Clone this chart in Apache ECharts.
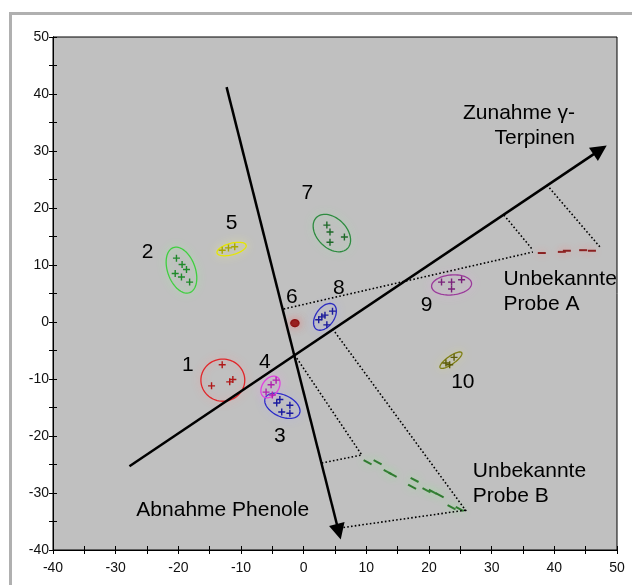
<!DOCTYPE html>
<html>
<head>
<meta charset="utf-8">
<script src="https://cdn.jsdelivr.net/npm/echarts@6/dist/echarts.min.js"></script>
<style>
  html, body { margin: 0; padding: 0; background: #fff; }
  #chart { width: 632px; height: 585px; }
</style>
</head>
<body>
<div id="chart"></div>
<script>
// ---- data -------------------------------------------------------------
const clusterNames = ['1', '2', '3', '4', '5', '6', '7', '8', '9', '10'];

// individual samples of each reference group (score 1, score 2)
const clusterPoints = [
  [[-13, -7.5], [-14.7, -11.2], [-11.8, -10.5], [-11.3, -10.1]],
  [[-20.3, 11.2], [-19.4, 10.1], [-18.7, 9.2], [-19.5, 7.9], [-18.2, 7], [-20.5, 8.5]],
  [[-4.3, -14.2], [-3.8, -13.6], [-2.2, -14.6], [-2.2, -16], [-3.5, -15.8]],
  [[-4.4, -10.2], [-5.2, -11], [-6, -12.3], [-5, -12.8]],
  [[-13, 12.6], [-12, 13], [-11, 13.2]],
  [],
  [[3.7, 17], [4.2, 15.8], [4.2, 14], [6.5, 14.9]],
  [[2.9, 0.9], [3.4, 1.2], [4.6, 1.9], [3.7, -0.5], [2.4, 0.4]],
  [[22, 7], [23.6, 7], [25.2, 7.4], [23.6, 5.8]],
  [[22.7, -7.2], [24, -6.2], [23.3, -7.5]]
];

// group confidence ellipses: centre x, centre y, semi-axis x, semi-axis y, tilt (deg), group index
const groupEllipses = [
  [-12.9, -10.2, 3.5, 3.7, 0, 0],
  [-19.5, 9.1, 2.2, 4.2, 20, 1],
  [-3.4, -14.7, 3.0, 1.9, -25, 2],
  [-5.3, -11.4, 1.3, 2.1, -35, 3],
  [-11.5, 12.8, 2.4, 1.0, 15, 4],
  [-1.4, -0.2, 0.65, 0.6, 0, 5],
  [4.5, 15.6, 3.5, 2.6, -45, 6],
  [3.4, 0.9, 2.4, 1.6, 55, 7],
  [23.6, 6.5, 3.2, 1.75, 5, 8],
  [23.5, -6.7, 2.1, 0.7, 35, 9]
];

// positions of the group numbers
const clusterLabelPos = [
  [-18.5, -7.5], [-24.9, 12.3], [-3.8, -20], [-6.2, -7], [-11.5, 17.4],
  [-1.9, 4.4], [0.6, 22.6], [5.6, 6], [19.6, 3], [25.4, -10.5]
];

// unknown samples
const probeA = [[38, 12.1], [41.2, 12.3], [42, 12.5], [44.6, 12.6], [46, 12.5]];
const probeB = [[10.2, -24.6], [11.8, -24.6], [13.4, -26.3], [14.2, -26.8], [17.7, -27.7],
                [17.3, -28.9], [19.6, -29.5], [20.6, -29.8], [21.7, -30.4], [23.6, -32.5], [24.9, -32.8]];

// trend axes
const arrowPhenole = [[-12.3, 41.2], [5.6, -36.8]];
const arrowTerpinen = [[-27.8, -25.3], [47.3, 30.2]];

// projections of the unknown samples onto the trend axes
const projections = [
  [[-1.44, -5.79], [9.27, -23.33]],
  [[4.63, -1.23], [26.04, -33.33]],
  [[2.88, -24.74], [9.27, -23.33]],
  [[5.75, -36.14], [26.04, -32.98]],
  [[-3.19, 2.28], [36.58, 12.28]],
  [[31.95, 18.77], [36.58, 12.63]],
  [[38.82, 24.04], [47.28, 13.16]]
];

// annotation texts and anchors
const annotations = [
  { text: 'Zunahme \u03b3-\nTerpinen', at: [43.3, 34.5], align: 'right' },
  { text: 'Unbekannte\nProbe A', at: [31.9, 5.4], align: 'left' },
  { text: 'Unbekannte\nProbe B', at: [27.0, -28.3], align: 'left' },
  { text: 'Abnahme Phenole', at: [-26.7, -33.0], align: 'left' }
];

const axisMin = -40, axisMax = 50, tickStep = 5;

// ---- styling ----------------------------------------------------------
const groupColors = ['#e0262a', '#3fcf3f', '#2b2bc8', '#e040e0', '#e6e600',
                     '#8b1010', '#2e8b40', '#2b2bc0', '#9a3a9a', '#7d7d10'];
const pointColors = ['#b01818', '#1f8a2a', '#1a1aa0', '#b020b0', '#a8a800',
                     '#8b1010', '#1f6a2a', '#1a1a9a', '#7a207a', '#5c5c08'];
const groupHalo = ['rgba(255,150,150,0.9)', 'rgba(150,255,150,0.9)', 'rgba(170,170,255,0.9)',
                   'rgba(255,150,255,0.9)', 'rgba(255,255,120,0.9)', 'rgba(230,120,120,0.9)',
                   'rgba(160,230,170,0.9)', 'rgba(170,170,255,0.9)', 'rgba(240,170,240,0.9)',
                   'rgba(220,220,120,0.9)'];
const textFont = '"Liberation Sans", Arial, sans-serif';
const plusSymbol = 'path://M4,0h2v4h4v2h-4v4h-2v-4h-4v-2h4z';

function ellipseItem(params, api) {
  const c = api.coord([api.value(0), api.value(1)]);
  const rx = api.size([api.value(2), 0])[0];
  const ry = api.size([0, api.value(3)])[1];
  const ang = api.value(4) * Math.PI / 180;
  const g = api.value(5);
  const pts = [];
  const n = 72;
  for (let i = 0; i < n; i++) {
    const t = i / n * Math.PI * 2;
    const x = rx * Math.cos(t), y = ry * Math.sin(t);
    pts.push([c[0] + x * Math.cos(ang) - y * Math.sin(ang),
              c[1] - (x * Math.sin(ang) + y * Math.cos(ang))]);
  }
  const filled = g === 5;
  return {
    type: 'polygon',
    shape: { points: pts },
    style: {
      fill: filled ? groupColors[g] : 'rgba(0,0,0,0)',
      stroke: groupColors[g],
      lineWidth: 1.3,
      shadowBlur: 8,
      shadowColor: groupHalo[g]
    }
  };
}

const series = [];

// ellipses
series.push({
  type: 'custom',
  renderItem: ellipseItem,
  data: groupEllipses,
  silent: true,
  z: 2
});

// group members
clusterPoints.forEach((pts, g) => {
  if (!pts.length) return;
  series.push({
    type: 'scatter',
    data: pts,
    symbol: plusSymbol,
    symbolSize: 7,
    itemStyle: { color: pointColors[g], opacity: 1 },
    silent: true,
    z: 3
  });
});

// unknown samples
series.push({
  type: 'scatter',
  data: probeA,
  symbol: 'rect',
  symbolSize: [8, 2],
  itemStyle: { color: '#8a2020', opacity: 1, shadowBlur: 7, shadowColor: 'rgba(240,150,150,0.95)' },
  silent: true,
  z: 3
});
series.push({
  type: 'scatter',
  data: probeB,
  symbol: 'rect',
  symbolSize: [9, 2],
  symbolRotate: -28,
  itemStyle: { color: '#2f7a2f', opacity: 1, shadowBlur: 8, shadowColor: 'rgba(150,240,150,0.95)' },
  silent: true,
  z: 3
});

// projection lines
series.push({
  type: 'lines',
  coordinateSystem: 'cartesian2d',
  data: projections.map(c => ({ coords: c })),
  symbol: 'none',
  lineStyle: { color: '#000', width: 1.6, type: [1.6, 2.2], opacity: 1 },
  silent: true,
  z: 4
});

// trend arrows
series.push({
  type: 'lines',
  coordinateSystem: 'cartesian2d',
  data: [{ coords: arrowPhenole }, { coords: arrowTerpinen }],
  symbol: ['none', 'triangle'],
  symbolSize: [12, 16],
  lineStyle: { color: '#000', width: 2.5, opacity: 1 },
  itemStyle: { color: '#000' },
  silent: true,
  z: 5
});

const textLabel = {
  show: true,
  position: 'inside',
  color: '#000',
  opacity: 1,
  textBorderWidth: 0,
  fontSize: 21,
  lineHeight: 25,
  fontFamily: textFont
};

// group numbers
series.push({
  type: 'scatter',
  data: clusterLabelPos.map((p, i) => ({ value: p, name: clusterNames[i] })),
  symbolSize: 0,
  itemStyle: { opacity: 1 },
  label: Object.assign({}, textLabel, { formatter: p => p.name }),
  silent: true,
  z: 6
});

// annotation texts
annotations.forEach(a => {
  series.push({
    type: 'scatter',
    data: [{ value: a.at, name: a.text }],
    symbolSize: 0,
    itemStyle: { opacity: 1 },
    label: Object.assign({}, textLabel, {
      formatter: p => p.name,
      align: a.align,
      verticalAlign: 'middle'
    }),
    silent: true,
    z: 6
  });
});

function makeAxis(kind, inside, labels) {
  return {
    type: 'value',
    min: axisMin,
    max: axisMax,
    interval: tickStep,
    position: kind === 'x' ? 'bottom' : 'left',
    axisLine: { show: true, onZero: false, lineStyle: { color: '#000', width: 1 } },
    axisTick: { show: true, inside: inside, length: 4, lineStyle: { color: '#000', width: 1 } },
    axisLabel: {
      show: labels,
      formatter: v => (v % 10 === 0 ? String(v) : ''),
      color: '#111',
      fontSize: 14,
      fontFamily: textFont,
      margin: kind === 'x' ? 11 : 4
    },
    splitLine: { show: false }
  };
}

const chart = echarts.init(document.getElementById('chart'), null, { renderer: 'canvas' });
chart.setOption({
  animation: false,
  backgroundColor: '#fff',
  grid: {
    left: 53, top: 37, right: 15, bottom: 35,
    show: true,
    backgroundColor: '#c0c0c0',
    borderColor: '#000',
    borderWidth: 1
  },
  xAxis: [makeAxis('x', false, true), makeAxis('x', true, false)],
  yAxis: [makeAxis('y', false, true), makeAxis('y', true, false)],
  graphic: [
    { type: 'rect', shape: { x: 9, y: 12, width: 623, height: 3 }, style: { fill: '#b0b0b0' }, silent: true },
    { type: 'rect', shape: { x: 9, y: 12, width: 3, height: 573 }, style: { fill: '#b0b0b0' }, silent: true }
  ],
  series: series
});
</script>
</body>
</html>
